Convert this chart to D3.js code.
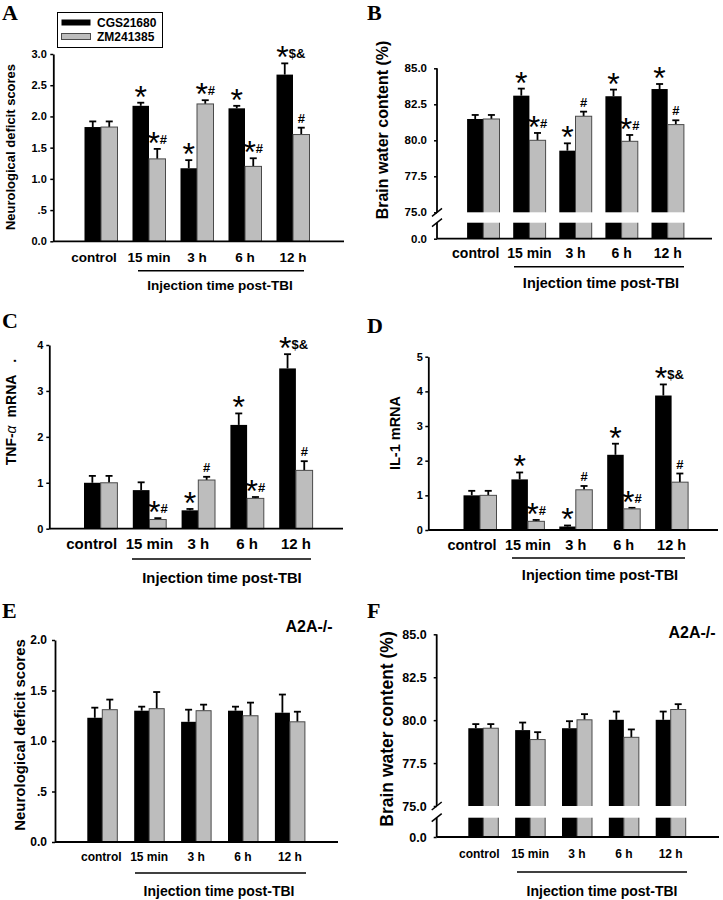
<!DOCTYPE html>
<html>
<head>
<meta charset="utf-8">
<script src="https://cdn.jsdelivr.net/npm/d3@7"></script>
<style>
body { margin: 0; background: #fff; }
text { font-family: "Liberation Sans", Arial, sans-serif; font-weight: bold; fill: #000; }
.letter { font-family: "Liberation Serif", "Times New Roman", serif; font-size: 22px; }
</style>
</head>
<body>
<svg id="fig" width="723" height="900"></svg>
<script>

// categories and series
var categories = ["control", "15 min", "3 h", "6 h", "12 h"];
var series = ["CGS21680", "ZM241385"];

// A - neurological deficit scores
var neuroCGS = [1.83, 2.17, 1.17, 2.13, 2.67];
var neuroCGSErr = [0.09, 0.05, 0.13, 0.04, 0.18];
var neuroZM = [1.83, 1.32, 2.20, 1.20, 1.71];
var neuroZMErr = [0.09, 0.16, 0.06, 0.13, 0.11];
var neuroCGSNotes = ["", "*", "*", "*", "*$&"];
var neuroZMNotes = ["", "*#", "*#", "*#", "#"];

// B - brain water content (%)
var waterCGS = [81.48, 83.10, 79.28, 83.06, 83.56];
var waterCGSErr = [0.28, 0.49, 0.51, 0.46, 0.35];
var waterZM = [81.48, 80.00, 81.67, 79.93, 81.09];
var waterZMErr = [0.28, 0.51, 0.32, 0.44, 0.30];
var waterCGSNotes = ["", "*", "*", "*", "*"];
var waterZMNotes = ["", "*#", "#", "*#", "#"];

// C - TNF-a mRNA
var tnfCGS = [1.00, 0.84, 0.40, 2.26, 3.49];
var tnfCGSErr = [0.15, 0.17, 0.03, 0.25, 0.31];
var tnfZM = [1.00, 0.20, 1.06, 0.66, 1.27];
var tnfZMErr = [0.15, 0.03, 0.07, 0.03, 0.20];
var tnfCGSNotes = ["", "", "*", "*", "*$&"];
var tnfZMNotes = ["", "*#", "#", "*#", "#"];

// D - IL-1 mRNA
var il1CGS = [1.00, 1.46, 0.10, 2.17, 3.88];
var il1CGSErr = [0.13, 0.20, 0.03, 0.32, 0.32];
var il1ZM = [1.00, 0.25, 1.16, 0.61, 1.38];
var il1ZMErr = [0.13, 0.04, 0.11, 0.03, 0.25];
var il1CGSNotes = ["", "*", "*", "*", "*$&"];
var il1ZMNotes = ["", "*#", "#", "*#", "#"];

// E - A2A-/- neurological deficit scores
var koNeuroCGS = [1.23, 1.30, 1.19, 1.30, 1.28];
var koNeuroCGSErr = [0.10, 0.04, 0.12, 0.04, 0.18];
var koNeuroZM = [1.31, 1.32, 1.30, 1.25, 1.19];
var koNeuroZMErr = [0.10, 0.165, 0.06, 0.13, 0.10];

// F - A2A-/- brain water content (%)
var koWaterCGS = [79.53, 79.42, 79.53, 80.02, 80.02];
var koWaterCGSErr = [0.24, 0.44, 0.41, 0.48, 0.48];
var koWaterZM = [79.53, 78.87, 80.02, 79.00, 80.62];
var koWaterZMErr = [0.24, 0.43, 0.33, 0.46, 0.31];

// tick values and labels
var scoreTicks = [0, 0.5, 1, 1.5, 2, 2.5, 3];
var scoreTickLabels = ["0.0", ".5", "1.0", "1.5", "2.0", "2.5", "3.0"];
var koScoreTicks = [0, 0.5, 1, 1.5, 2];
var koScoreTickLabels = ["0.0", ".5", "1.0", "1.5", "2.0"];
var waterTicks = [0, 75, 77.5, 80, 82.5, 85];
var waterTickLabels = ["0.0", "75.0", "77.5", "80.0", "82.5", "85.0"];
var tnfTicks = [0, 1, 2, 3, 4];
var tnfTickLabels = ["0", "1", "2", "3", "4"];
var il1Ticks = [0, 1, 2, 3, 4, 5];
var il1TickLabels = ["0", "1", "2", "3", "4", "5"];

var xTitle = "Injection time post-TBI";
var seriesFill = { "CGS21680": "#000", "ZM241385": "#bdbdbd" };

var svg = d3.select("#fig");

function drawPanel(p) {
    var g = svg.append("g");

    var x = d3.scaleBand()
        .domain(categories)
        .range([p.c0 - p.step / 2, p.c0 + p.step * 4.5]);
    var xs = d3.scaleBand().domain(series).range([-p.bw, p.bw]);
    var y = d3.scaleLinear().domain(p.yDomain).range(p.yRange);
    var zeroY = p.yRange[0];

    var rows = [];
    categories.forEach(function (c, i) {
        series.forEach(function (s, j) {
            rows.push({
                cat: c, ser: s,
                v: p.values[j][i], e: p.errors[j][i],
                note: p.notes ? p.notes[j][i] : ""
            });
        });
    });

    function cx(d) { return x(d.cat) + x.bandwidth() / 2 + xs(d.ser) + xs.bandwidth() / 2; }

    // error bars
    g.selectAll(".err").data(rows).enter().append("line")
        .attr("x1", cx).attr("x2", cx)
        .attr("y1", d => y(d.v)).attr("y2", d => y(d.v + d.e))
        .attr("stroke", "#000").attr("stroke-width", 1.8);
    g.selectAll(".cap").data(rows).enter().append("line")
        .attr("x1", d => cx(d) - 3.5).attr("x2", d => cx(d) + 3.5)
        .attr("y1", d => y(d.v + d.e)).attr("y2", d => y(d.v + d.e))
        .attr("stroke", "#000").attr("stroke-width", 1.8);

    // bars
    g.selectAll(".bar").data(rows).enter().append("rect")
        .attr("x", d => x(d.cat) + x.bandwidth() / 2 + xs(d.ser))
        .attr("width", xs.bandwidth())
        .attr("y", d => y(d.v))
        .attr("height", d => zeroY - y(d.v))
        .attr("fill", d => seriesFill[d.ser])
        .attr("stroke", d => d.ser == series[1] ? "#4a4a4a" : "none")
        .attr("stroke-width", 1);

    // y axis
    var yAxis = d3.axisLeft(y)
        .tickValues(p.ticks)
        .tickFormat((d, i) => p.tickLabels[i])
        .tickSize(3)
        .tickSizeOuter(0)
        .tickPadding(p.tickPad);
    var ax = g.append("g")
        .attr("transform", `translate(${p.axisX},0)`)
        .call(yAxis);
    ax.selectAll("text").style("font-size", p.tickFont + "px");
    ax.selectAll("line").attr("stroke-width", 1.5);
    ax.select(".domain").attr("stroke-width", 1.8);

    if (p.breakBottom) {
        var top = p.yRange[1];
        ax.select(".domain").remove();
        // white gap through the bars
        g.append("rect")
            .attr("x", p.axisX + 2).attr("y", top)
            .attr("width", p.xEnd - p.axisX).attr("height", p.breakBottom - top)
            .attr("fill", "#fff");
        g.append("line").attr("x1", p.axisX).attr("x2", p.axisX)
            .attr("y1", zeroY).attr("y2", p.breakBottom)
            .attr("stroke", "#000").attr("stroke-width", 1.8);
        g.append("line").attr("x1", p.axisX).attr("x2", p.axisX)
            .attr("y1", top).attr("y2", p.yRange[2])
            .attr("stroke", "#000").attr("stroke-width", 1.8);
        [top, p.breakBottom].forEach(function (by) {
            g.append("line")
                .attr("x1", p.axisX - 5).attr("y1", by + 4)
                .attr("x2", p.axisX + 5).attr("y2", by - 4)
                .attr("stroke", "#000").attr("stroke-width", 1.5);
        });
    }

    // x axis
    g.append("line")
        .attr("x1", p.axisX).attr("x2", p.xEnd)
        .attr("y1", zeroY).attr("y2", zeroY)
        .attr("stroke", "#000").attr("stroke-width", 1.8);

    // significance marks (star dropped so it sits level with # $ &)
    rows.filter(d => d.note).forEach(function (d) {
        var t = g.append("text")
            .attr("x", cx(d) + (d.note.length > 2 ? 6 : 0))
            .attr("y", y(d.v + d.e) - 5)
            .attr("text-anchor", "middle")
            .style("font-size", "13px");
        var rest = d.note;
        if (rest[0] == "*") {
            t.append("tspan")
                .attr("dy", 10)
                .style("font-size", "32px")
                .style("font-weight", "normal")
                .text("*");
            rest = rest.slice(1);
            if (rest) t.append("tspan").attr("dy", -10).text(rest);
        } else {
            t.text(rest);
        }
    });

    // category labels
    g.selectAll(".cat").data(categories).enter().append("text")
        .attr("x", (d, i) => x(d) + x.bandwidth() / 2 + (i == 0 ? p.ctrlShift : 0))
        .attr("y", p.catY)
        .attr("text-anchor", "middle")
        .style("font-size", p.catSize + "px")
        .text(d => d);

    // underline and x title
    g.append("line")
        .attr("x1", p.lineX[0]).attr("x2", p.lineX[1])
        .attr("y1", p.lineY).attr("y2", p.lineY)
        .attr("stroke", "#000").attr("stroke-width", 1.5);
    g.append("text")
        .attr("x", p.xTitleX).attr("y", p.xTitleY)
        .attr("text-anchor", "middle")
        .style("font-size", p.xTitleSize + "px")
        .text(xTitle);

    // y title
    var yt = g.append("text")
        .attr("transform", `translate(${p.titleX},${p.titleY}) rotate(-90)`)
        .attr("text-anchor", "middle")
        .attr("dy", "0.35em")
        .style("font-size", p.titleSize + "px");
    p.yTitle.forEach(function (part) {
        var ts = yt.append("tspan").text(part.t);
        if (part.italic) ts.style("font-style", "italic").style("font-weight", "normal");
        if (part.dx) ts.attr("dx", part.dx);
    });

    // panel letter
    g.append("text").attr("class", "letter")
        .attr("x", p.letterX).attr("y", p.letterY)
        .text(p.letter);

    if (p.tag) {
        g.append("text")
            .attr("x", p.tagX).attr("y", p.tagY)
            .attr("text-anchor", "middle")
            .style("font-size", "16px")
            .text(p.tag);
    }
}

drawPanel({
    letter: "A", letterX: 2, letterY: 20,
    values: [neuroCGS, neuroZM], errors: [neuroCGSErr, neuroZMErr], notes: [neuroCGSNotes, neuroZMNotes],
    c0: 101, step: 48, bw: 16.5, axisX: 53.3, xEnd: 344,
    yDomain: [0, 3], yRange: [241.3, 54],
    ticks: scoreTicks, tickLabels: scoreTickLabels, tickFont: 11, tickPad: 3.5,
    yTitle: [{ t: "Neurological deficit scores" }], titleX: 10, titleY: 147, titleSize: 13,
    catY: 262, catSize: 13.5, ctrlShift: -7,
    lineY: 270.7, lineX: [138, 304], xTitleX: 220, xTitleY: 290, xTitleSize: 13.5
});

drawPanel({
    letter: "B", letterX: 367, letterY: 20,
    values: [waterCGS, waterZM], errors: [waterCGSErr, waterZMErr], notes: [waterCGSNotes, waterZMNotes],
    c0: 483.3, step: 46.1, bw: 16.2, axisX: 437, xEnd: 712,
    yDomain: [0, 75, 85], yRange: [238.7, 212.3, 68.3], breakBottom: 222.7,
    ticks: waterTicks, tickLabels: waterTickLabels, tickFont: 11.5, tickPad: 7,
    yTitle: [{ t: "Brain water content (%)" }], titleX: 382, titleY: 130, titleSize: 16,
    catY: 258, catSize: 14, ctrlShift: -7.5,
    lineY: 266.7, lineX: [514, 684], xTitleX: 601, xTitleY: 288, xTitleSize: 14.5
});

drawPanel({
    letter: "C", letterX: 2, letterY: 328,
    values: [tnfCGS, tnfZM], errors: [tnfCGSErr, tnfZMErr], notes: [tnfCGSNotes, tnfZMNotes],
    c0: 100.7, step: 48.8, bw: 16.7, axisX: 49.3, xEnd: 343,
    yDomain: [0, 4], yRange: [528.7, 345],
    ticks: tnfTicks, tickLabels: tnfTickLabels, tickFont: 11, tickPad: 3,
    yTitle: [{ t: "TNF-" }, { t: "α", italic: true }, { t: "mRNA", dx: 8 }, { t: ".", dx: 12 }],
    titleX: 11, titleY: 412, titleSize: 14,
    catY: 549, catSize: 15, ctrlShift: -9,
    lineY: 559, lineX: [132, 311], xTitleX: 222, xTitleY: 583, xTitleSize: 14.8
});

drawPanel({
    letter: "D", letterX: 367, letterY: 333,
    values: [il1CGS, il1ZM], errors: [il1CGSErr, il1ZMErr], notes: [il1CGSNotes, il1ZMNotes],
    c0: 480, step: 47.9, bw: 16.5, axisX: 428.3, xEnd: 718,
    yDomain: [0, 5], yRange: [530, 356.7],
    ticks: il1Ticks, tickLabels: il1TickLabels, tickFont: 11, tickPad: 2.5,
    yTitle: [{ t: "IL-1 mRNA" }], titleX: 395, titleY: 433, titleSize: 14.5,
    catY: 550, catSize: 14.5, ctrlShift: -8,
    lineY: 558, lineX: [512, 685], xTitleX: 600, xTitleY: 580, xTitleSize: 14.5
});

drawPanel({
    letter: "E", letterX: 2, letterY: 618, tag: "A2A-/-", tagX: 309, tagY: 632,
    values: [koNeuroCGS, koNeuroZM], errors: [koNeuroCGSErr, koNeuroZMErr],
    c0: 102.3, step: 46.9, bw: 15, axisX: 55, xEnd: 338,
    yDomain: [0, 2], yRange: [842, 640],
    ticks: koScoreTicks, tickLabels: koScoreTickLabels, tickFont: 12, tickPad: 5,
    yTitle: [{ t: "Neurological deficit scores" }], titleX: 20, titleY: 735, titleSize: 15,
    catY: 861, catSize: 12, ctrlShift: -1,
    lineY: 873, lineX: [135, 306], xTitleX: 219, xTitleY: 896, xTitleSize: 14
});

drawPanel({
    letter: "F", letterX: 367, letterY: 618, tag: "A2A-/-", tagX: 692, tagY: 638,
    values: [koWaterCGS, koWaterZM], errors: [koWaterCGSErr, koWaterZMErr],
    c0: 483.3, step: 46.85, bw: 15, axisX: 436.7, xEnd: 719,
    yDomain: [0, 75, 85], yRange: [837, 806, 634.3], breakBottom: 817.7,
    ticks: waterTicks, tickLabels: waterTickLabels, tickFont: 12.5, tickPad: 7,
    yTitle: [{ t: "Brain water content (%)" }], titleX: 387, titleY: 729, titleSize: 17.5,
    catY: 858, catSize: 12, ctrlShift: -4,
    lineY: 872, lineX: [517, 687], xTitleX: 602, xTitleY: 896, xTitleSize: 14
});

// legend (panel A)
var legend = svg.append("g");
legend.append("rect")
    .attr("x", 57.5).attr("y", 12.5).attr("width", 105).attr("height", 35)
    .attr("fill", "#fff").attr("stroke", "#000").attr("stroke-width", 1);
series.forEach(function (s, i) {
    legend.append("rect")
        .attr("x", 61.5).attr("y", 19.5 + i * 14)
        .attr("width", 29).attr("height", 6)
        .attr("fill", seriesFill[s])
        .attr("stroke", i == 1 ? "#4a4a4a" : "none");
    legend.append("text")
        .attr("x", 97).attr("y", 22.5 + i * 14)
        .attr("dy", "0.35em")
        .style("font-size", "12px")
        .text(s);
});

</script>
</body>
</html>
